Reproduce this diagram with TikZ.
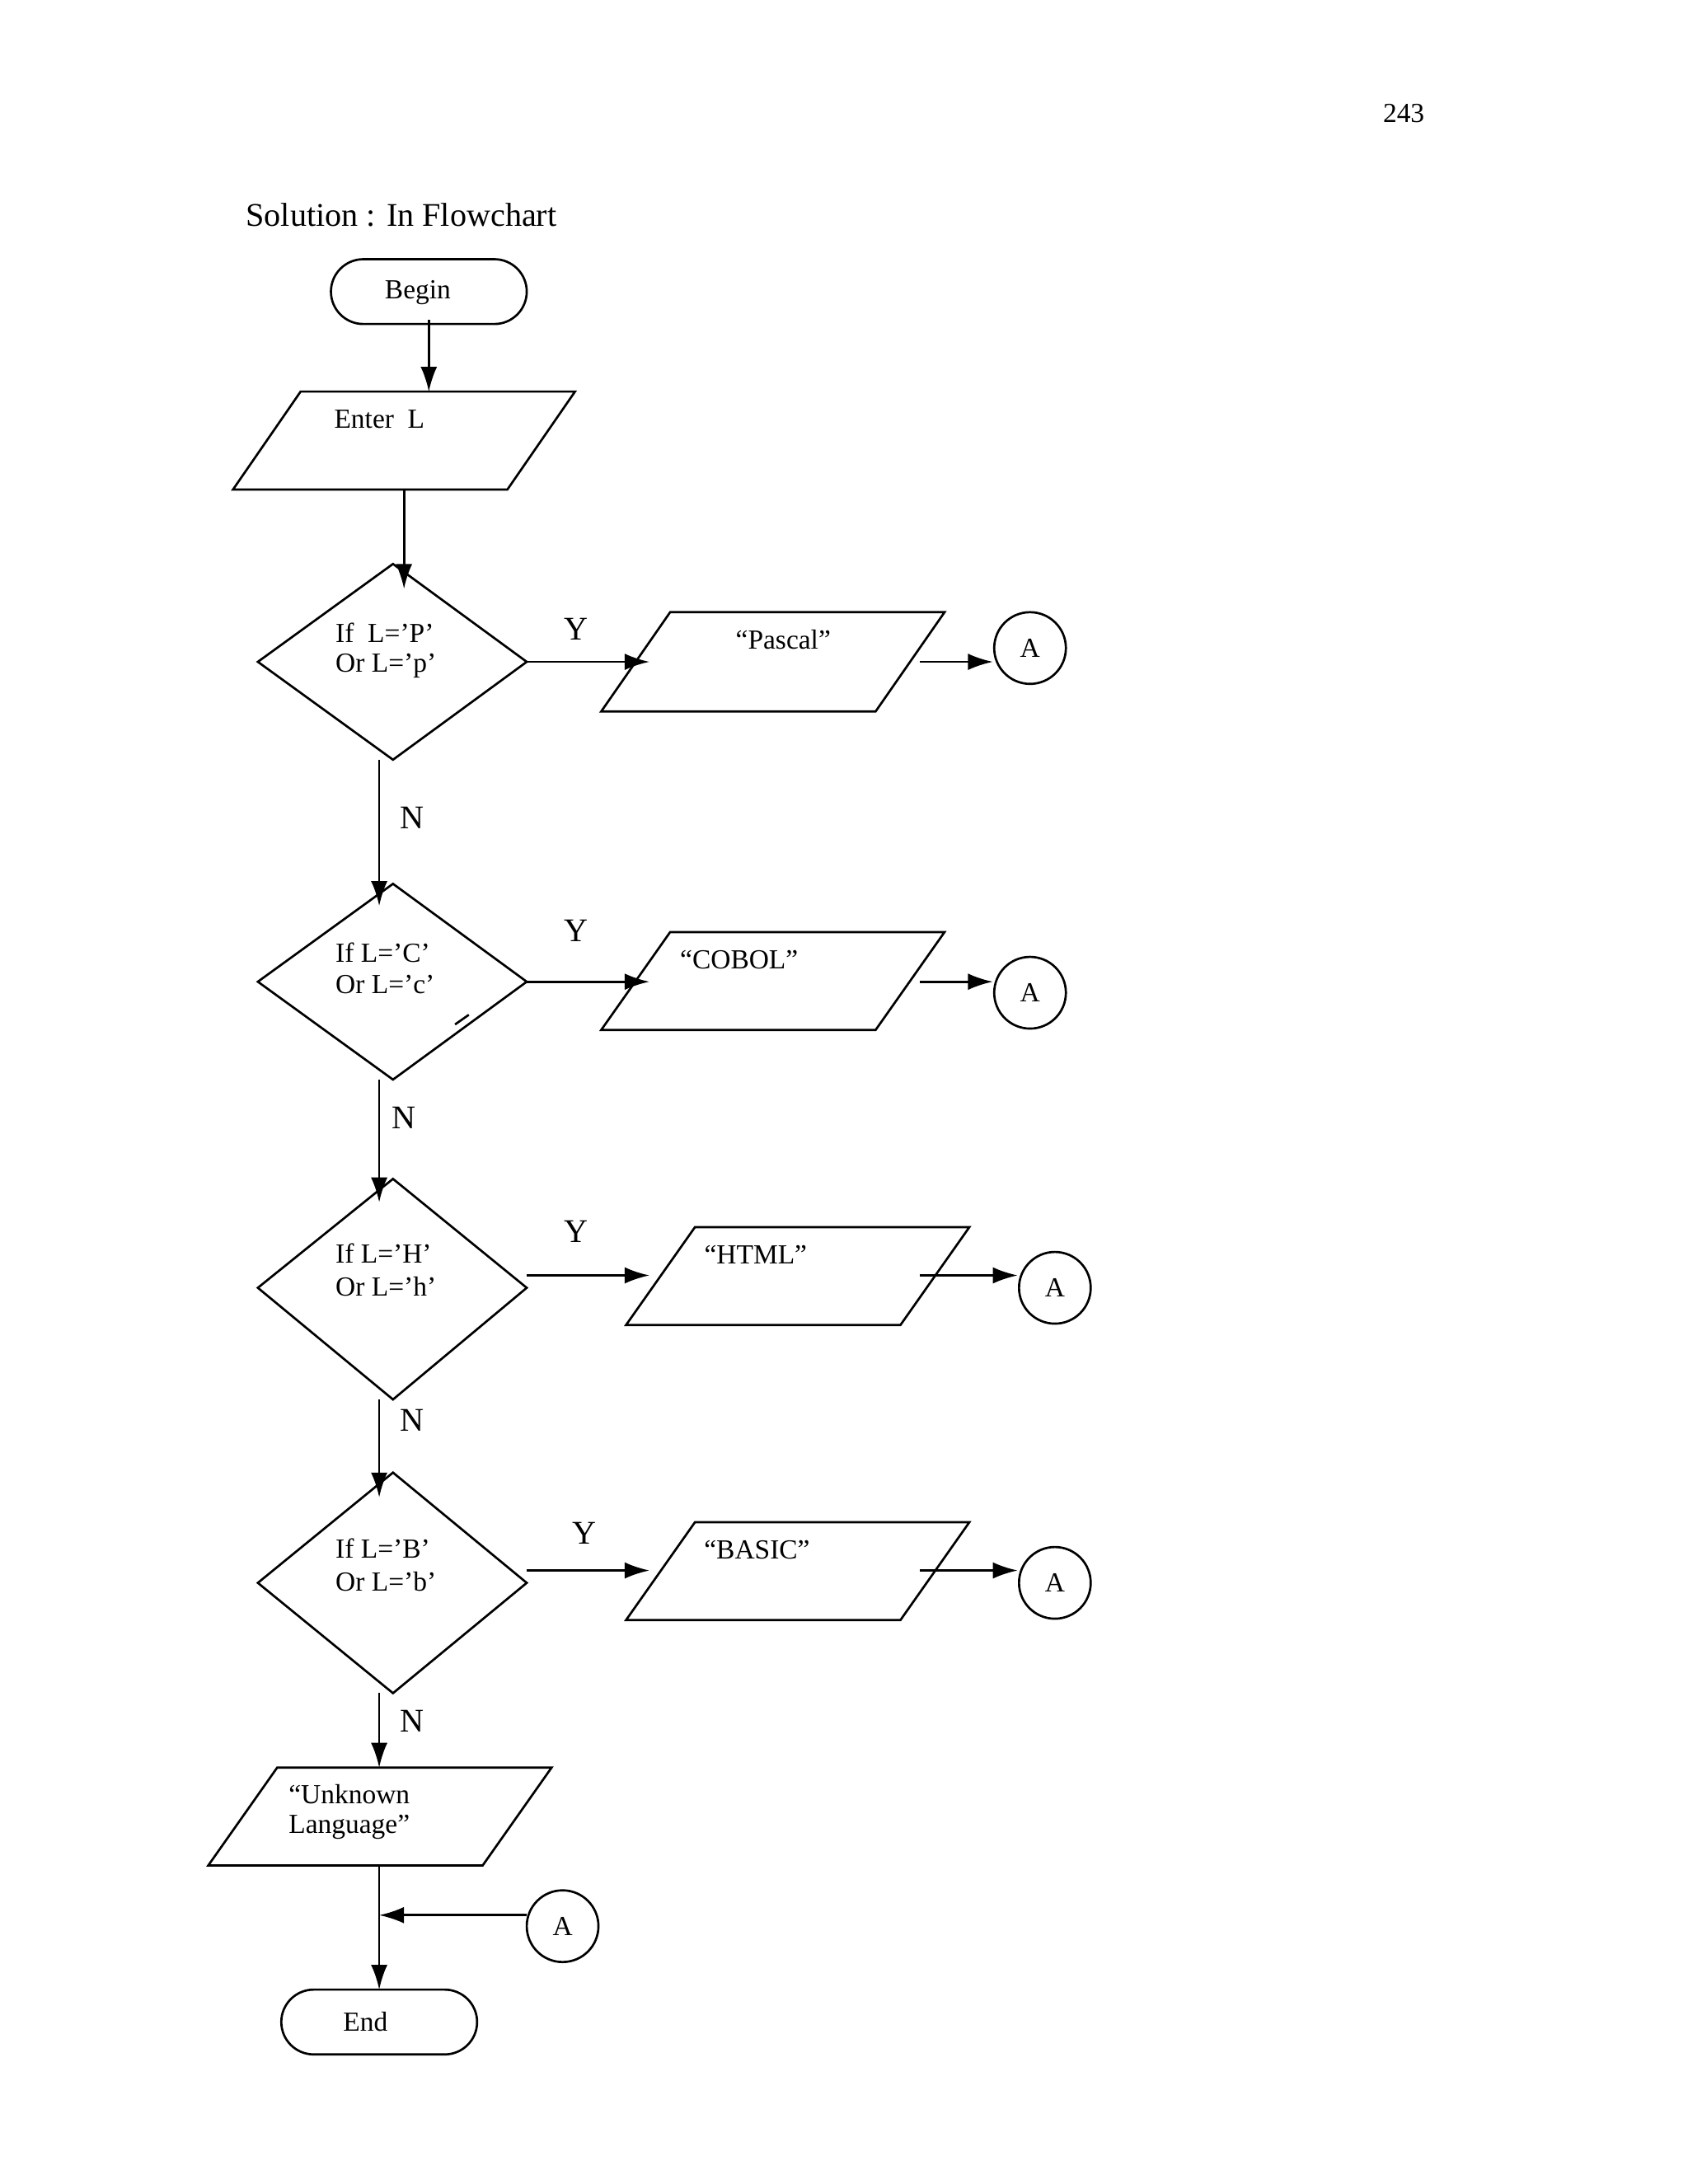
\documentclass[tikz,border=0pt]{standalone}
\usepackage{fontspec}
\setmainfont{Liberation Serif}
\usetikzlibrary{arrows.meta}
\begin{document}
\begin{tikzpicture}[x=0.5pt,y=-0.5pt,
  ln/.style={line width=0.8pt},
  arr/.style={ln,-{Latex[length=9pt,width=6pt]}},
  txt/.style={font=\fontsize{10}{12}\selectfont,inner sep=0pt},
  big/.style={font=\fontsize{12}{14}\selectfont,inner sep=0pt},
  lt/.style={txt,anchor=west,align=left},
  circ/.style={draw,ln,circle,minimum size=26pt,inner sep=0pt,font=\fontsize{10}{12}\selectfont}]
\useasboundingbox (0,0) rectangle (1224,1584);
\node[txt] (pg) at (1018,82) {243};
\node[anchor=west,inner sep=0pt,font=\fontsize{12}{14}\selectfont] (title) at (178,156) {Solution : In Flowchart};
% Begin
\draw[ln,rounded corners=11.75pt] (240,188) rectangle (382,235);
\node[txt] (begin) at (303,212) {Begin};
\draw[arr] (311,232) -- (311,284);
% Enter L
\draw[ln] (218,284) -- (417,284) -- (368,355) -- (169,355) -- cycle;
\node[lt] (enter) at (242,304) {Enter\ \ L};
\draw[arr] (293,355) -- (293,427);
% decisions
\foreach \t/\l/\ya/\yb/\yc/\txa/\txb [count=\i] in
 {409/480/551/459/483/{If\ \ L=’P’}/{Or L=’p’},
  641/712/783/691/714/{If L=’C’}/{Or L=’c’},
  855/934/1015/909/933/{If L=’H’}/{Or L=’h’},
  1068/1148/1228/1123/1147/{If L=’B’}/{Or L=’b’}}{
  \draw[ln] (285,\t) -- (382,\l) -- (285,\ya) -- (187,\l) -- cycle;
  \node[lt] (d\i a) at (243,\yb) {\txa};
  \node[lt] (d\i b) at (243,\yc) {\txb};
}
% N lines
\draw[arr] (275,551) -- (275,657); \node[big] (n1) at (299,593) {N};
\draw[arr] (275,783) -- (275,872); \node[big] (n2) at (293,811) {N};
\draw[arr] (275,1015) -- (275,1086); \node[big] (n3) at (299,1030) {N};
\draw[arr] (275,1228) -- (275,1282); \node[big] (n4) at (299,1248) {N};
\draw[ln] (330,743) -- (340,736);
% Y branches
\draw[arr] (382,480) -- (471,480); \node[big] (y1) at (418,456) {Y};
\draw[ln] (486,444) -- (685,444) -- (635,516) -- (436,516) -- cycle;
\node[txt] (o1) at (568,464) {“Pascal”};
\node[circ] (a1) at (747,470) {A};
\draw[arr] (667,480) -- (720,480);

\draw[arr] (382,712) -- (471,712); \node[big] (y2) at (418,675) {Y};
\draw[ln] (486,676) -- (685,676) -- (635,747) -- (436,747) -- cycle;
\node[txt] (o2) at (536,696) {“COBOL”};
\node[circ] (a2) at (747,720) {A};
\draw[arr] (667,712) -- (720,712);

\draw[arr] (382,925) -- (471,925); \node[big] (y3) at (418,893) {Y};
\draw[ln] (504,890) -- (703,890) -- (653,961) -- (454,961) -- cycle;
\node[txt] (o3) at (548,910) {“HTML”};
\node[circ] (a3) at (765,934) {A};
\draw[arr] (667,925) -- (738,925);

\draw[arr] (382,1139) -- (471,1139); \node[big] (y4) at (424,1112) {Y};
\draw[ln] (504,1104) -- (703,1104) -- (653,1175) -- (454,1175) -- cycle;
\node[txt] (o4) at (549,1124) {“BASIC”};
\node[circ] (a4) at (765,1148) {A};
\draw[arr] (667,1139) -- (738,1139);
% Unknown
\draw[ln] (201,1282) -- (400,1282) -- (350,1353) -- (151,1353) -- cycle;
\node[lt] (u1) at (209,1301) {“Unknown};
\node[lt] (u2) at (209,1325) {Language”};
\draw[arr] (275,1353) -- (275,1443);
\node[circ] (a5) at (408,1397) {A};
\draw[arr] (382,1389) -- (275,1389);
% End
\draw[ln,rounded corners=11.75pt] (204,1443) rectangle (346,1490);
\node[txt] (end) at (265,1466) {End};
\end{tikzpicture}
\end{document}
